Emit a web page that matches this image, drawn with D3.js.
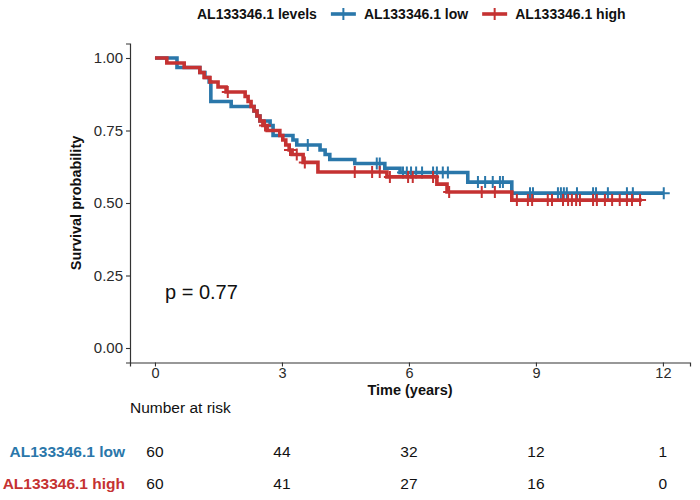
<!DOCTYPE html>
<html><head><meta charset="utf-8">
<script src="https://cdn.jsdelivr.net/npm/d3@7"></script>
<style>body{margin:0;background:#fff}svg{font-family:"Liberation Sans",Arial,sans-serif}</style>
</head><body><svg id="c" width="700" height="500"></svg>
<script>
const groups = ["AL133346.1 low", "AL133346.1 high"];
const colors = ["#2A77AA", "#C53232"];
// step times (years) and survival after the step
const lowTimes = [0.52,1.06,1.18,1.28,1.32,1.80,2.34,2.41,2.48,2.72,2.79,3.26,3.35,3.90,4.02,4.13,4.72,5.43,5.79,7.39,8.43];
const lowSurv  = [0.967,0.95,0.933,0.917,0.85,0.833,0.817,0.80,0.783,0.767,0.733,0.717,0.70,0.683,0.667,0.65,0.636,0.62,0.605,0.572,0.534];
const lowCensor = [3.61,5.24,5.31,5.86,5.95,6.05,6.17,6.31,6.57,6.66,6.80,6.92,7.63,7.80,7.98,8.15,8.22,8.86,8.93,9.52,9.59,9.66,9.73,9.97,10.35,10.42,10.70,11.15,11.29,12.02];
const lowEnd = 12.02;
const highTimes = [0.28,0.69,1.06,1.16,1.30,1.49,1.68,2.13,2.20,2.27,2.34,2.41,2.48,2.55,2.65,2.95,3.02,3.09,3.17,3.24,3.50,3.85,5.48,6.66,6.90,8.43];
const highSurv  = [0.983,0.967,0.95,0.933,0.917,0.90,0.883,0.867,0.85,0.833,0.817,0.80,0.783,0.767,0.75,0.733,0.717,0.70,0.683,0.667,0.64,0.607,0.59,0.565,0.538,0.51];
const highCensor = [1.72,2.60,3.19,3.35,3.54,4.72,5.13,5.31,5.55,5.98,6.09,6.57,6.95,7.72,8.03,8.55,8.81,8.91,9.28,9.38,9.64,9.76,9.85,9.95,10.04,10.35,10.44,10.63,10.80,10.98,11.15,11.27,11.46];
const highEnd = 11.5;
const xTicks = [0,3,6,9,12];
const yTicks = [0,0.25,0.5,0.75,1];
const riskLow = [60,44,32,12,1];
const riskHigh = [60,41,27,16,0];
const pText = "p = 0.77";
const legendTitle = "AL133346.1 levels";

const svg = d3.select("#c");
const x = d3.scaleLinear().domain([-0.59, 12.64]).range([130, 690]);
const y = d3.scaleLinear().domain([-0.05, 1.05]).range([362.5, 43.5]);

// axes
const gx = svg.append("g").attr("transform","translate(0,362.5)")
  .call(d3.axisBottom(x).tickValues(xTicks).tickSize(4).tickPadding(1).tickFormat(d3.format("d")));
const gy = svg.append("g").attr("transform","translate(130,0)")
  .call(d3.axisLeft(y).tickValues(yTicks).tickSize(4).tickPadding(3).tickFormat(d3.format(".2f")));
[gx,gy].forEach(g=>{
  g.select(".domain").attr("stroke","#333").attr("stroke-width",1.2);
  g.selectAll(".tick line").attr("stroke","#333").attr("stroke-width",1.1);
  g.selectAll(".tick text").attr("fill","#2a2a2a").style("font-size","15px").style("font-family","'Liberation Sans',Arial,sans-serif");
});
gx.selectAll(".tick text").style("font-size","14.5px");

svg.append("text").attr("x",410).attr("y",395).attr("text-anchor","middle")
  .style("font-size","14.5px").style("font-weight","bold").attr("fill","#111").text("Time (years)");
svg.append("text").attr("transform","translate(81,203) rotate(-90)").attr("text-anchor","middle")
  .style("font-size","14.5px").style("font-weight","bold").attr("fill","#111").text("Survival probability");

function build(times, surv, end){
  const pts = [[0,1]];
  times.forEach((t,i)=>pts.push([t,surv[i]]));
  pts.push([end, surv[surv.length-1]]);
  return pts;
}
function survAt(times, surv, t){
  let s = 1;
  for(let i=0;i<times.length;i++){ if(times[i] <= t) s = surv[i]; }
  return s;
}
const series = [
  {pts: build(lowTimes,lowSurv,lowEnd), cens: lowCensor.map(t=>[t, survAt(lowTimes,lowSurv,t)])},
  {pts: build(highTimes,highSurv,highEnd), cens: highCensor.map(t=>[t, survAt(highTimes,highSurv,t)])}
];
const line = d3.line().x(d=>x(d[0])).y(d=>y(d[1])).curve(d3.curveStepAfter);
const cross = (cx,cy,r)=>`M${cx-r},${cy}H${cx+r}M${cx},${cy-r}V${cy+r}`;

series.forEach((s,i)=>{
  svg.append("path").attr("d", line(s.pts)).attr("fill","none")
    .attr("stroke",colors[i]).attr("stroke-width",3.6).attr("stroke-linejoin","miter");
  svg.append("path").attr("d", s.cens.map(c=>cross(x(c[0]),y(c[1]),6)).join(""))
    .attr("fill","none").attr("stroke",colors[i]).attr("stroke-width",2);
});

svg.append("text").attr("x",165).attr("y",299).style("font-size","20px").attr("fill","#111").text(pText);

// legend (flowing layout)
const lg = svg.append("g");
let cx = 197;
const t0 = lg.append("text").attr("x",cx).attr("y",19).style("font-size","14px").style("font-weight","bold").attr("fill","#111").text(legendTitle);
cx += t0.node().getComputedTextLength() + 14;
groups.forEach((g,i)=>{
  lg.append("path").attr("d",`M${cx},14H${cx+25}`).attr("stroke",colors[i]).attr("stroke-width",3.6);
  lg.append("path").attr("d",cross(cx+12.5,14,6)).attr("stroke",colors[i]).attr("stroke-width",2).attr("fill","none");
  cx += 33;
  const t = lg.append("text").attr("x",cx).attr("y",19).style("font-size","14px").style("font-weight","bold").attr("fill","#111").text(g);
  cx += t.node().getComputedTextLength() + 14;
});

// risk table
svg.append("text").attr("x",130).attr("y",413).style("font-size","15.5px").attr("fill","#111").text("Number at risk");
[riskLow, riskHigh].forEach((row,i)=>{
  const yy = [457, 489][i];
  svg.append("text").attr("x",125).attr("y",yy).attr("text-anchor","end").style("font-size","15.5px")
    .style("font-weight","bold").attr("fill",colors[i]).text(groups[i]);
  svg.selectAll(null).data(row).enter().append("text")
    .attr("x",(d,j)=>x(xTicks[j])).attr("y",yy).attr("text-anchor","middle")
    .style("font-size","15.5px").attr("fill","#111").text(d=>d);
});
</script></body></html>
